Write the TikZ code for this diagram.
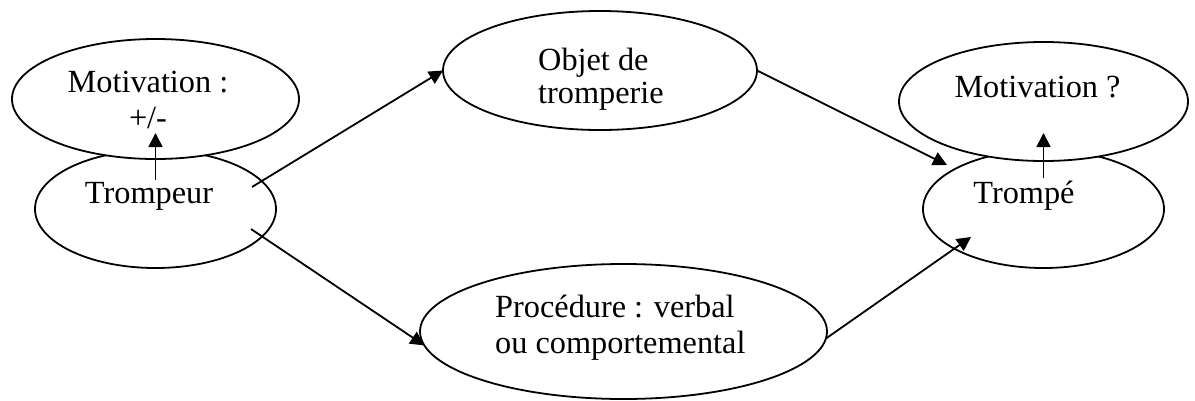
\documentclass[tikz,border=0pt]{standalone}
\usepackage{fontspec}
\setmainfont{Liberation Serif}
\usepackage{tikz}
\usetikzlibrary{shapes.geometric}
\usetikzlibrary{arrows.meta}

\tikzset{
  oval/.style={ellipse, draw, line width=1.8pt, fill=white, inner sep=0pt, outer sep=0pt},
  txt/.style={inner sep=2pt, font=\fontsize{32.3pt}{36pt}\selectfont},
  arr/.style={-{Triangle[length=14pt,width=14pt]}, line width=1.8pt}
}

\begin{document}
\begin{tikzpicture}[x=1pt,y=-1pt]
\useasboundingbox (0,0) rectangle (1195,400);
% ellipses (the motivation ones lie over the lower ones)
\node[oval, minimum width=241pt, minimum height=118pt] (trompeur) at (155.5,209) {};
\node[oval, minimum width=287pt, minimum height=120pt] (motivL) at (155.5,99) {};
\node[oval, minimum width=314pt, minimum height=119pt] (objet) at (600,70.5) {};
\node[oval, minimum width=407pt, minimum height=135pt] (procedure) at (623.5,331.5) {};
\node[oval, minimum width=241pt, minimum height=118pt] (trompe) at (1043.5,209) {};
\node[oval, minimum width=289pt, minimum height=119pt] (motivR) at (1043.5,101.5) {};
% texts (base = baseline of the last line)
\node[txt, align=center, anchor=base] (motivLtxt) at (148,128) {Motivation :\\+/-};
\node[txt, anchor=base] (trompeurtxt) at (149,203) {Trompeur};
\node[txt, align=left, anchor=base west] (objettxt) at (536,103) {Objet de\\[-3pt]tromperie};
\node[txt, align=left, anchor=base west] (proceduretxt) at (493,353) {Proc\'edure : verbal\\ou comportemental};
\node[txt, anchor=base] (motivRtxt) at (1037.5,97) {Motivation ?};
\node[txt, anchor=base] (trompetxt) at (1024,203) {Tromp\'e};
% arrow ends
\coordinate (tailA) at (252,187);
\coordinate (tailB) at (251,229);
\coordinate (headC) at (947,165);
\coordinate (headD) at (971,237);
\coordinate (upL) at (155.5,133);
\coordinate (upR) at (1043.5,133);
% arrows
\draw[arr] (tailA) -- (objet.west);
\draw[arr] (tailB) -- (procedure.184);
\draw[arr] (objet.east) -- (headC);
\draw[arr] (procedure.-2) -- (headD);
\draw[arr] (trompeur.center |- trompeurtxt.north) -- (upL);
\draw[arr] (trompe.center |- trompetxt.north) -- (upR);
\end{tikzpicture}
\end{document}
